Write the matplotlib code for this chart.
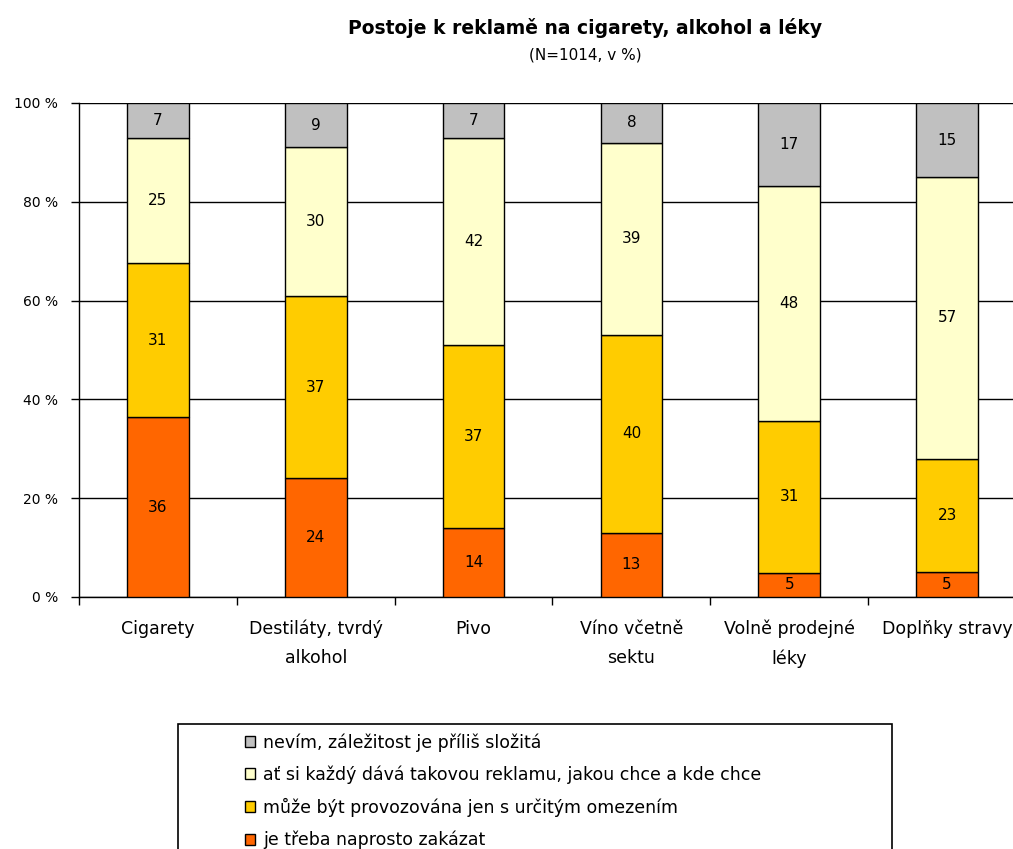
import numpy as np
import matplotlib
matplotlib.use('Agg')
import matplotlib.pyplot as plt
from matplotlib.patches import Rectangle, Patch

plt.rcParams['font.family'] = ['DejaVu Sans']

categories = ['Cigarety', 'Destiláty, tvrdý\nalkohol', 'Pivo', 'Víno včetně\nsektu',
              'Volně prodejné\nléky', 'Doplňky stravy']
zakazat = [36, 24, 14, 13, 5, 5]
omezeni = [31, 37, 37, 40, 31, 23]
kazdy = [25, 30, 42, 39, 48, 57]
nevim = [7, 9, 7, 8, 17, 15]

series = [zakazat, omezeni, kazdy, nevim]
labels = ['je třeba naprosto zakázat',
          'může být provozována jen s určitým omezením',
          'ať si každý dává takovou reklamu, jakou chce a kde chce',
          'nevím, záležitost je příliš složitá']
colors = ['#FF6600', '#FFCC00', '#FFFFCC', '#C0C0C0']

W, H = 1013, 849
fig = plt.figure(figsize=(W / 100, H / 100), dpi=100)
ax = fig.add_axes([79 / W, 1 - 597 / H, (1026 - 79) / W, (597 - 103) / H])

vals = np.array(series, dtype=float)
shares = vals / vals.sum(axis=0) * 100
x = np.arange(len(categories))
bottom = np.zeros(len(categories))
for i in range(len(series)):
    ax.bar(x, shares[i], bottom=bottom, width=0.39, color=colors[i],
           edgecolor='black', linewidth=1.0, zorder=3)
    for j in range(len(categories)):
        ax.text(x[j], bottom[j] + shares[i][j] / 2, str(series[i][j]),
                ha='center', va='center', fontsize=11, zorder=4)
    bottom += shares[i]

ax.set_xlim(-0.5, len(categories) - 0.5)
ax.set_ylim(0, 100)
ax.set_yticks([0, 20, 40, 60, 80, 100])
ax.set_yticklabels(['0 %', '20 %', '40 %', '60 %', '80 %', '100 %'], fontsize=10)
ax.yaxis.grid(True, color='black', linewidth=1.0, zorder=0)
ax.axhline(100, color='#A0A0A0', linewidth=1.5, zorder=1)

ax.set_xticks(x)
ax.set_xticklabels(categories, fontsize=12.5, linespacing=1.76)
ax.set_xticks(np.arange(len(categories) + 1) - 0.5, minor=True)
ax.tick_params(axis='x', which='major', length=0, pad=16.5)
ax.tick_params(axis='x', which='minor', length=6, width=1.0, direction='out')
ax.tick_params(axis='y', length=6, width=1.0, direction='out', pad=9)

for s in ['top', 'right']:
    ax.spines[s].set_visible(False)
for s in ['left', 'bottom']:
    ax.spines[s].set_linewidth(1.0)

fig.text(585 / W, 1 - 28 / H, 'Postoje k reklamě na cigarety, alkohol a léky',
         ha='center', va='center', fontsize=13.5, fontweight='bold')
fig.text(585 / W, 1 - 55 / H, '(N=1014, v %)', ha='center', va='center', fontsize=11)

# legend frame runs past the bottom edge
fig.patches.append(Rectangle((178 / W, -0.05), (892 - 178) / W, 1 - 724 / H + 0.05,
                             transform=fig.transFigure, facecolor='white',
                             edgecolor='black', linewidth=1.2, zorder=1))
handles = [Patch(facecolor=colors[i], edgecolor='black', linewidth=1.0)
           for i in range(3, -1, -1)]
fig.legend(handles, labels[::-1], loc='upper left',
           bbox_to_anchor=(245 / W, 1 - 733 / H), frameon=False, fontsize=12.5,
           handlelength=0.6, handleheight=0.6, handletextpad=0.45,
           labelspacing=0.8, borderpad=0, borderaxespad=0)

fig.savefig('out.png', dpi=100)
